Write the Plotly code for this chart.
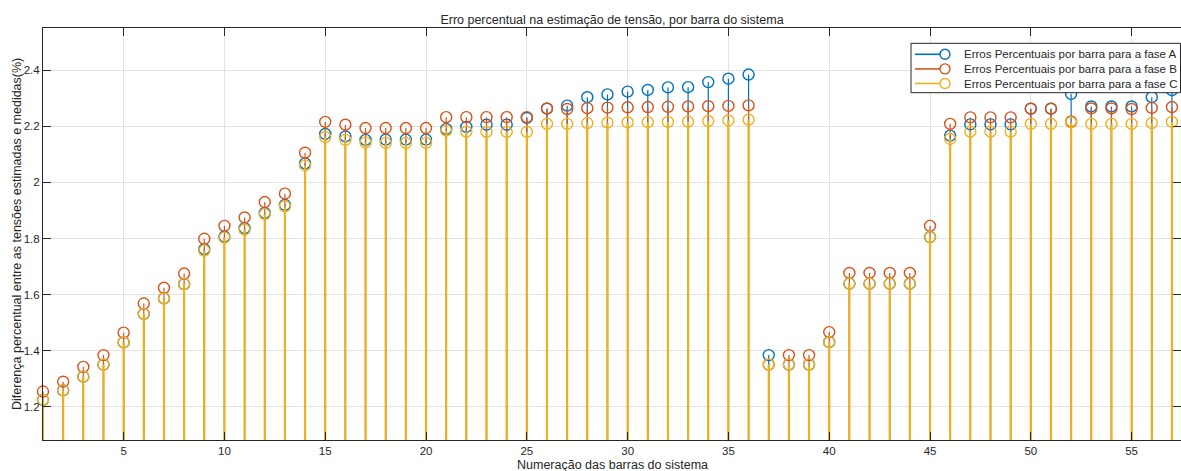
import plotly.graph_objects as go

bars = list(range(1, 58))

fase_a = [1.224, 1.258, 1.307, 1.350, 1.429, 1.531, 1.586, 1.637, 1.762, 1.807,
          1.837, 1.891, 1.920, 2.068, 2.173, 2.164, 2.152, 2.153, 2.153, 2.153,
          2.191, 2.198, 2.206, 2.206, 2.230, 2.263, 2.274, 2.304, 2.314, 2.324,
          2.330, 2.339, 2.340, 2.358, 2.370, 2.385, 1.384, 1.350, 1.350, 1.430,
          1.639, 1.639, 1.639, 1.639, 1.805, 2.167, 2.207, 2.207, 2.207, 2.263,
          2.263, 2.316, 2.271, 2.271, 2.271, 2.304, 2.329]

fase_b = [1.254, 1.289, 1.342, 1.384, 1.464, 1.568, 1.624, 1.675, 1.799, 1.845,
          1.875, 1.930, 1.960, 2.106, 2.216, 2.206, 2.194, 2.194, 2.194, 2.194,
          2.233, 2.233, 2.233, 2.233, 2.233, 2.264, 2.262, 2.265, 2.267, 2.268,
          2.269, 2.270, 2.271, 2.272, 2.273, 2.275, 1.350, 1.384, 1.384, 1.466,
          1.677, 1.677, 1.677, 1.677, 1.845, 2.209, 2.232, 2.232, 2.232, 2.263,
          2.263, 2.218, 2.264, 2.264, 2.262, 2.266, 2.269]

fase_c = [1.224, 1.258, 1.307, 1.350, 1.429, 1.531, 1.586, 1.637, 1.757, 1.803,
          1.832, 1.887, 1.915, 2.061, 2.162, 2.152, 2.143, 2.141, 2.141, 2.141,
          2.185, 2.181, 2.180, 2.180, 2.180, 2.209, 2.209, 2.212, 2.213, 2.214,
          2.215, 2.216, 2.217, 2.219, 2.221, 2.224, 1.350, 1.350, 1.350, 1.430,
          1.639, 1.639, 1.639, 1.639, 1.805, 2.155, 2.181, 2.181, 2.181, 2.209,
          2.209, 2.214, 2.209, 2.209, 2.209, 2.212, 2.216]

series_names = ["Erros Percentuais por barra para a fase A",
                "Erros Percentuais por barra para a fase B",
                "Erros Percentuais por barra para a fase C"]
colors = ["#0072BD", "#D95319", "#EDB120"]
stem_widths = [1.2, 1.2, 2.2]
x_ticks = [5, 10, 15, 20, 25, 30, 35, 40, 45, 50, 55]
y_ticks = [1.2, 1.4, 1.6, 1.8, 2.0, 2.2, 2.4]
y_tick_labels = ["1.2", "1.4", "1.6", "1.8", "2", "2.2", "2.4"]
BASELINE = 0.0

FONT = "Liberation Sans, Arial, Helvetica, sans-serif"
TXT = "#262626"

# plot-area geometry in pixels (for converting legend box placement)
W, H = 1181, 471
ML, MR, MT, MB = 43, 0, 28, 31
PW, PH = W - ML - MR, H - MT - MB


def px_x(p):
    return (p - ML) / PW


def px_y(p):
    return (H - MB - p) / PH


fig = go.Figure()
for name, vals, col, lw in zip(series_names, [fase_a, fase_b, fase_c], colors, stem_widths):
    xs, ys = [], []
    for b, v in zip(bars, vals):
        xs += [b, b, None]
        ys += [BASELINE, v, None]
    fig.add_trace(go.Scatter(
        x=xs, y=ys, mode="lines+markers", name=name, showlegend=False,
        line=dict(color=col, width=lw),
        marker=dict(symbol="circle-open", size=11, color=col, line=dict(width=1.4, color=col)),
        cliponaxis=False,
    ))

fig.update_layout(
    width=W, height=H,
    margin=dict(l=ML, r=MR, t=MT, b=MB),
    paper_bgcolor="white", plot_bgcolor="white",
    font=dict(family=FONT, size=11.5, color=TXT),
    title=dict(text="Erro percentual na estimação de tensão, por barra do sistema",
               x=0.5, xref="paper", xanchor="center",
               y=1 - 20 / H, yref="container", yanchor="middle",
               font=dict(size=12.5, color=TXT, family=FONT)),
    showlegend=False,
)

fig.update_xaxes(range=[1, 57.45], tickvals=x_ticks, ticks="inside", ticklen=8,
                 tickcolor="#262626", showline=True, linecolor="#262626", linewidth=1,
                 mirror="ticks", showgrid=True, gridcolor="#e3e3e3", gridwidth=1,
                 zeroline=False, tickfont=dict(size=11.5, color=TXT))
fig.update_yaxes(range=[1.081, 2.551], tickvals=y_ticks, ticktext=y_tick_labels,
                 ticks="inside", ticklen=8,
                 tickcolor="#262626", showline=True, linecolor="#262626", linewidth=1,
                 mirror="ticks", showgrid=True, gridcolor="#e3e3e3", gridwidth=1,
                 zeroline=False, tickfont=dict(size=11.5, color=TXT))

fig.add_annotation(text="Numeração das barras do sistema", xref="paper", yref="paper",
                   x=0.5, y=px_y(465), xanchor="center", yanchor="middle",
                   showarrow=False, font=dict(size=12.5, color=TXT, family=FONT))
fig.add_annotation(text="Diferença percentual entre as tensões estimadas e medidas(%)",
                   xref="paper", yref="paper", x=px_x(17), y=0.5, textangle=-90,
                   xanchor="center", yanchor="middle", showarrow=False,
                   font=dict(size=12.5, color=TXT, family=FONT))

# legend box (MATLAB style: line with circle at its end)
LEG_LEFT, LEG_RIGHT, LEG_TOP, LEG_BOTTOM = 911, 1180.5, 43.3, 92.7
ROW_Y = [54.3, 68.9, 83.5]
LINE_X0, LINE_X1, TEXT_X = 915, 945, 962
shapes = [dict(type="rect", xref="paper", yref="paper",
               x0=px_x(LEG_LEFT), x1=px_x(LEG_RIGHT), y0=px_y(LEG_BOTTOM), y1=px_y(LEG_TOP),
               fillcolor="white", line=dict(color="#262626", width=1), layer="above")]
for name, col, ry in zip(series_names, colors, ROW_Y):
    shapes.append(dict(type="line", xref="paper", yref="paper",
                       x0=px_x(LINE_X0), x1=px_x(LINE_X1 - 5), y0=px_y(ry), y1=px_y(ry),
                       line=dict(color=col, width=1.6), layer="above"))
    shapes.append(dict(type="circle", xref="paper", yref="paper",
                       xsizemode="pixel", ysizemode="pixel",
                       xanchor=px_x(LINE_X1), yanchor=px_y(ry),
                       x0=-5, x1=5, y0=-5, y1=5,
                       line=dict(color=col, width=1.4), layer="above"))
    fig.add_annotation(text=name, xref="paper", yref="paper",
                       x=px_x(TEXT_X), y=px_y(ry), xanchor="left", yanchor="middle",
                       showarrow=False, font=dict(size=11.5, color=TXT, family=FONT))
fig.update_layout(shapes=shapes)

fig.write_html("out.html")
